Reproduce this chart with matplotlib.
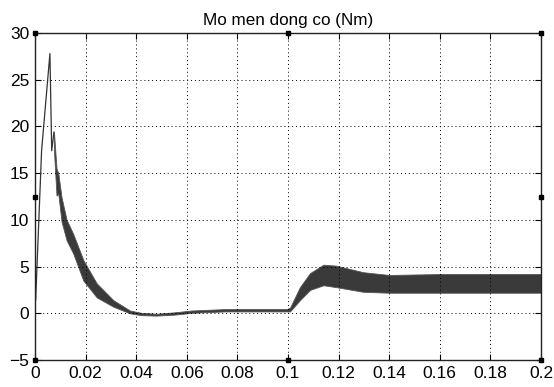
import matplotlib
matplotlib.use("Agg")
import matplotlib.pyplot as plt

plt.rcParams['font.family'] = ['Liberation Sans', 'DejaVu Sans']

# Initial transient (single trace)
t_rise = [0.0, 0.00026, 0.0026, 0.0059, 0.0066, 0.0075]
v_rise = [1.2, 1.4, 17.4, 27.8, 17.4, 19.4]

# Envelope of the dense ripple (upper / lower)
t_env = [0.0075, 0.0085, 0.0092, 0.0105, 0.0125, 0.0151, 0.0191, 0.0244, 0.031,
         0.0375, 0.042, 0.048, 0.055, 0.062, 0.075, 0.09, 0.0995, 0.1008, 0.1047,
         0.1087, 0.114, 0.119, 0.1297, 0.14, 0.16, 0.18, 0.2]
v_upper = [19.4, 15.5, 15.0, 12.4, 10.0, 8.5, 5.7, 3.2, 1.4,
           0.3, 0.05, -0.05, 0.1, 0.3, 0.45, 0.45, 0.45, 0.6, 2.8,
           4.3, 5.2, 5.1, 4.4, 4.1, 4.2, 4.2, 4.2]
v_lower = [17.4, 12.6, 12.8, 9.8, 7.8, 6.4, 3.5, 1.7, 0.7,
           0.0, -0.2, -0.25, -0.15, 0.05, 0.2, 0.2, 0.2, 0.2, 1.4,
           2.5, 3.0, 2.8, 2.3, 2.2, 2.2, 2.2, 2.2]

x_ticks = [0, 0.02, 0.04, 0.06, 0.08, 0.1, 0.12, 0.14, 0.16, 0.18, 0.2]
x_labels = ['0', '0.02', '0.04', '0.06', '0.08', '0.1', '0.12', '0.14', '0.16', '0.18', '0.2']
y_ticks = [-5, 0, 5, 10, 15, 20, 25, 30]
title = 'Mo men dong co (Nm)'

fig = plt.figure(figsize=(5.54, 3.87), dpi=100)
ax = fig.add_axes([35/554, 27/387, 506/554, 327/387])

ax.plot(t_rise, v_rise, color='#333333', lw=0.9)
ax.fill_between(t_env, v_lower, v_upper, color='#3a3a3a', lw=0.6, edgecolor='#555555')

ax.set_xlim(0, 0.2)
ax.set_ylim(-5, 30)
ax.set_xticks(x_ticks)
ax.set_xticklabels(x_labels)
ax.set_yticks(y_ticks)
ax.tick_params(direction='in', length=4, width=0.8, top=True, right=True,
               labelsize=12.5, pad=4, colors='black')
ax.grid(True, linestyle=(0, (1, 3)), color='black', lw=0.7)
for s in ax.spines.values():
    s.set_linewidth(1.0)
    s.set_color('#222222')
ax.set_title(title, fontsize=12.3, pad=6)

# selection handles
hx = [0, 0.5, 1, 1, 1, 0.5, 0, 0]
hy = [0, 0, 0, 0.5, 1, 1, 1, 0.5]
ax.plot(hx, hy, 's', color='black', ms=3.5, transform=ax.transAxes, clip_on=False, zorder=5)

fig.savefig('out.png', dpi=100)
